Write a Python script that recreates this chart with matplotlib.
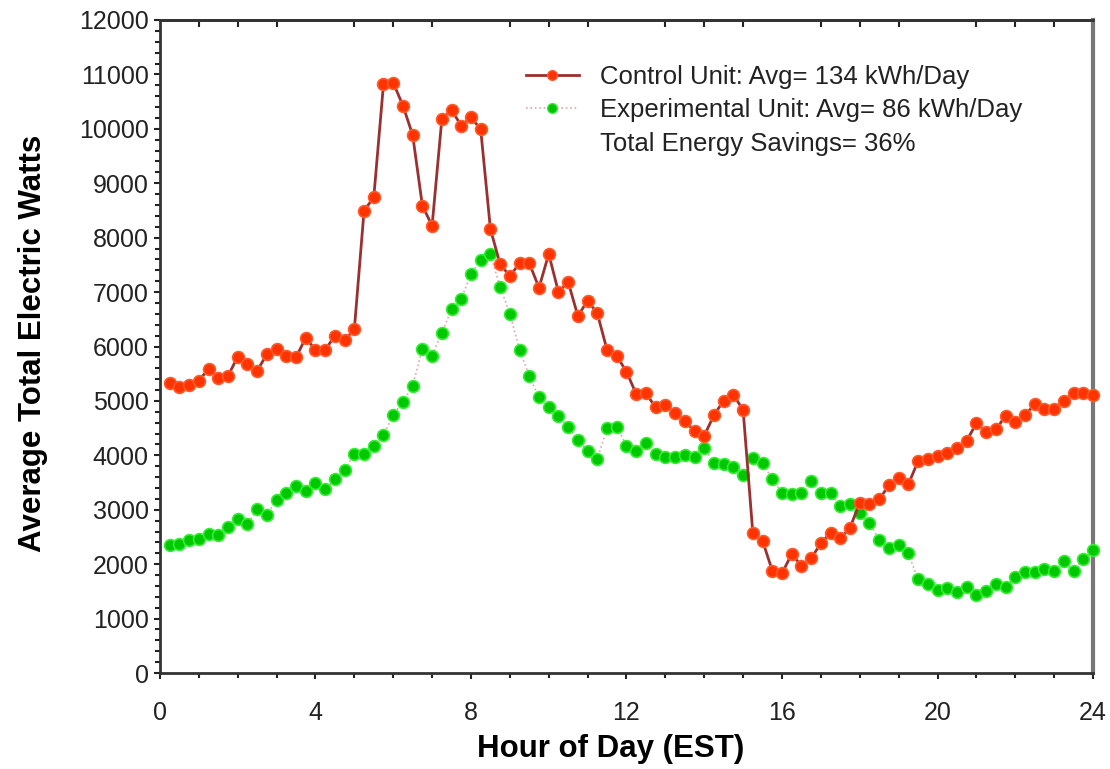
import numpy as np
import matplotlib.pyplot as plt
from matplotlib.ticker import MultipleLocator, FixedLocator
from matplotlib.lines import Line2D

plt.rcParams['font.family'] = ['Liberation Sans', 'DejaVu Sans']

# 15-minute readings, hour of day
hours = np.arange(1, 97) * 0.25

control_watts = [
    5335, 5262, 5293, 5372, 5587, 5415, 5458, 5813, 5679, 5556, 5857, 5949,
    5826, 5801, 6162, 5936, 5936, 6200, 6115, 6316, 8496, 8742, 10824, 10848,
    10426, 9887, 8588, 8220, 10175, 10346, 10058, 10212, 9991, 8159, 7513, 7296,
    7529, 7529, 7081, 7700, 7002, 7185, 6561, 6842, 6610, 5936, 5826, 5537,
    5127, 5140, 4883, 4931, 4772, 4625, 4447, 4361, 4741, 5004, 5115, 4833,
    2567, 2432, 1880, 1832, 2187, 1972, 2108, 2383, 2579, 2475, 2670, 3130,
    3106, 3192, 3449, 3580, 3468, 3893, 3940, 3980, 4037, 4129, 4270, 4589,
    4435, 4478, 4723, 4619, 4741, 4937, 4846, 4846, 5004, 5151, 5151, 5109,
]

experimental_watts = [
    2352, 2364, 2444, 2456, 2548, 2530, 2689, 2824, 2738, 3014, 2904, 3179,
    3314, 3442, 3350, 3486, 3376, 3560, 3731, 4019, 4019, 4177, 4374, 4741,
    4986, 5280, 5960, 5830, 6254, 6683, 6873, 7332, 7590, 7694, 7095, 6605,
    5935, 5458, 5066, 4883, 4723, 4527, 4282, 4085, 3938, 4496, 4527, 4172,
    4085, 4221, 4025, 3964, 3964, 4006, 3975, 4141, 3853, 3850, 3791, 3639,
    3945, 3865, 3560, 3314, 3289, 3314, 3534, 3302, 3302, 3075, 3106, 2935,
    2762, 2444, 2291, 2346, 2199, 1722, 1627, 1530, 1556, 1494, 1586, 1433,
    1507, 1636, 1575, 1770, 1862, 1862, 1905, 1880, 2064, 1880, 2095, 2260,
]

control_label = "Control Unit: Avg= 134 kWh/Day"
experimental_label = "Experimental Unit: Avg= 86 kWh/Day"
savings_label = "Total Energy Savings= 36%"

fig = plt.figure(figsize=(11.1, 7.69), dpi=100)
ax = fig.add_axes([0.1441, 0.1248, 0.8406, 0.8492])

ax.plot(hours, experimental_watts, linestyle=':', color='#e0a8a8',
        linewidth=1.2, marker='o', markersize=8.5, markerfacecolor='#00c800',
        markeredgecolor='#33ee33', markeredgewidth=1.2, clip_on=False, zorder=3)
ax.plot(hours, control_watts, linestyle='-', color='#9a3030', linewidth=2,
        marker='o', markersize=8.5, markerfacecolor='#ff3300',
        markeredgecolor='#ff5a2a', markeredgewidth=1.2, clip_on=False, zorder=4)

ax.set_xlim(0, 24)
ax.set_ylim(0, 12000)
ax.xaxis.set_major_locator(MultipleLocator(4))
ax.xaxis.set_minor_locator(MultipleLocator(1))
ax.yaxis.set_major_locator(MultipleLocator(1000))
ax.yaxis.set_minor_locator(MultipleLocator(200))
ax.tick_params(axis='both', which='both', direction='out', labelsize=18,
               colors='#222222', width=1.5)
ax.tick_params(axis='both', which='major', length=4)
ax.tick_params(axis='both', which='minor', length=3.5)
ax.tick_params(axis='y', which='major', pad=4)
ax.tick_params(axis='x', which='major', pad=16)

# inward minor ticks along the top edge, skipping the 4-hour marks
top = ax.secondary_xaxis('top')
top.xaxis.set_major_locator(FixedLocator([h for h in range(1, 24) if h % 4 != 0]))
top.tick_params(direction='in', length=5, width=1.5, labeltop=False, colors='#222222')
top.spines['top'].set_linewidth(2)
top.spines['top'].set_color('#333333')

for side in ['left', 'bottom', 'top']:
    ax.spines[side].set_linewidth(2)
    ax.spines[side].set_color('#333333')
ax.spines['right'].set_linewidth(3)
ax.spines['right'].set_color('#777777')

ax.set_xlabel("Hour of Day (EST)", fontsize=22.5, fontweight='bold')
ax.set_ylabel("Average Total Electric Watts", fontsize=22.5, fontweight='bold')
ax.xaxis.set_label_coords(0.483, -0.093)
ax.yaxis.set_label_coords(-0.12, 0.505)

handles = [
    Line2D([], [], color='#9a3030', linewidth=2, marker='o', markersize=7,
           markerfacecolor='#ff3300', markeredgecolor='#ff5a2a'),
    Line2D([], [], color='#e0a8a8', linewidth=1.2, linestyle=':', marker='o', markersize=7,
           markerfacecolor='#00c400', markeredgecolor='#33ee33'),
    Line2D([], [], linestyle='none'),
]
leg = ax.legend(handles, [control_label, experimental_label, savings_label],
                loc='upper left', bbox_to_anchor=(0.367, 0.967), frameon=False,
                fontsize=18.5, handlelength=2.1, handletextpad=0.8, labelspacing=0.38)
for t in leg.get_texts():
    t.set_color('#222222')

plt.savefig("out.png", dpi=100)
plt.close()
